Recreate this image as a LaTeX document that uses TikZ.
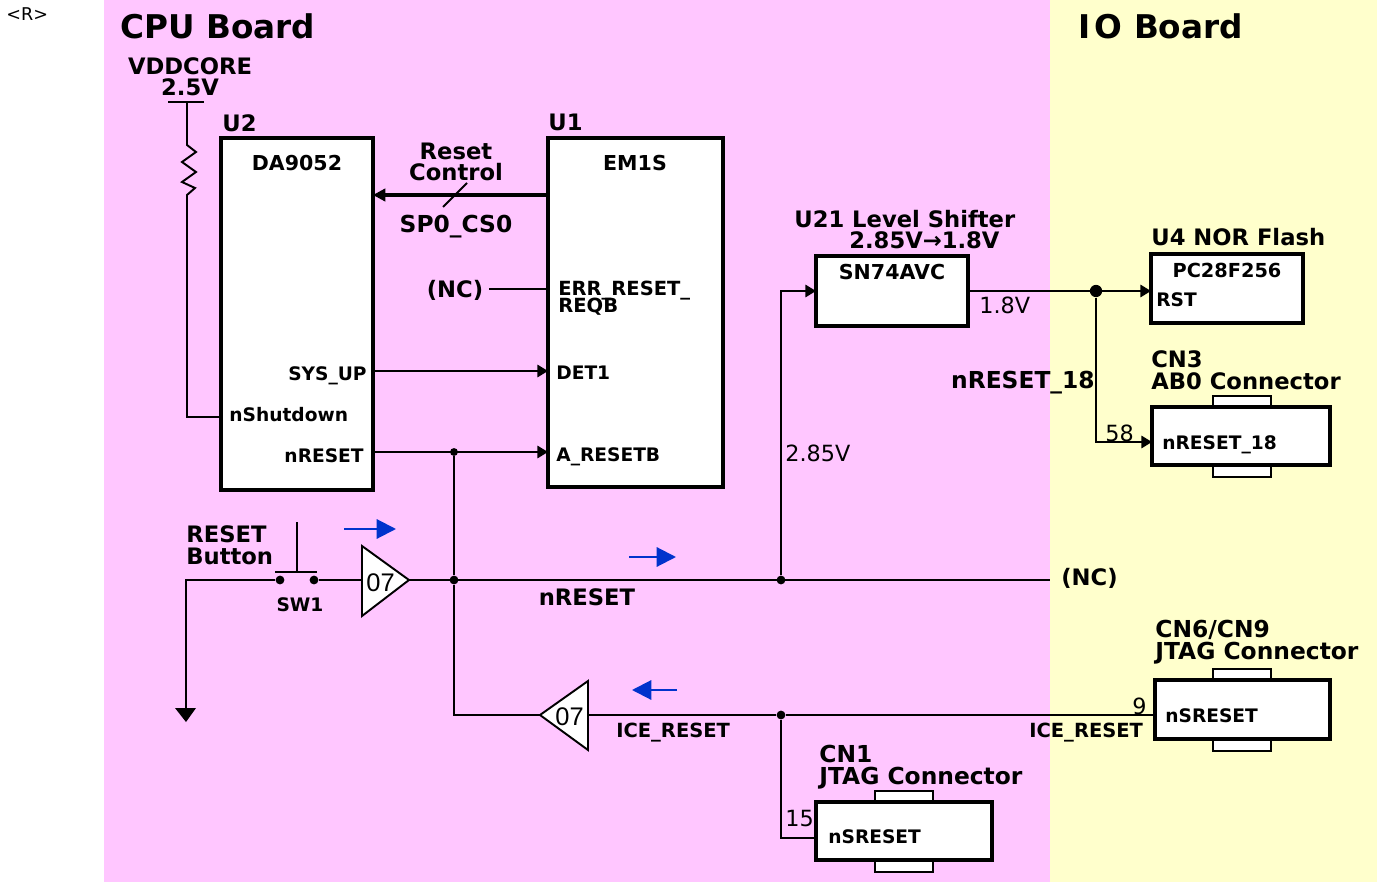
\documentclass[tikz,border=0pt]{standalone}
\usepackage{fontspec}
\setmainfont{DejaVu Sans}
\newfontfamily\gatefont{Liberation Sans}
\usetikzlibrary{arrows.meta}
\definecolor{cpupink}{HTML}{FFC6FF}
\definecolor{ioyellow}{HTML}{FFFFCC}
\definecolor{flowblue}{HTML}{0033CC}
\tikzset{
  wire/.style={line width=1.1pt},
  sig/.style={wire,-{Triangle[length=6pt,width=7pt]}},
  flow/.style={flowblue,line width=1.2pt,-{Triangle[length=11pt,width=11pt]}},
  chip/.style={draw,fill=white,line width=2.5pt,anchor=north west,inner sep=0pt,outer sep=0pt},
  tab/.style={draw,fill=white,line width=0.8pt,anchor=north west,inner sep=0pt,outer sep=0pt,minimum width=1.16cm,minimum height=0.24cm},
  dot/.style={circle,fill=black,inner sep=0pt,minimum size=#1},
  txt/.style={inner sep=0pt,anchor=base west},
  title/.style={txt,font=\fontsize{18.6}{20}\selectfont\bfseries},
  lab/.style={txt,font=\fontsize{12.9}{12.5}\selectfont\bfseries,align=left},
  widelab/.style={lab,font=\fontsize{13.3}{12.5}\selectfont\bfseries},
  chipname/.style={txt,font=\fontsize{11.7}{12.5}\selectfont\bfseries,anchor=base},
  pin/.style={txt,font=\fontsize{10.6}{10}\selectfont\bfseries,align=left},
  widepin/.style={pin,font=\fontsize{11.1}{10}\selectfont\bfseries},
  num/.style={txt,font=\fontsize{12.7}{13}\selectfont},
  gatelab/.style={txt,font=\fontsize{14.5}{14}\selectfont\gatefont},
}
\begin{document}
\begin{tikzpicture}[x=0.02cm,y=-0.02cm]
\useasboundingbox (0,0) rectangle (1377,882);
\fill[cpupink] (104,0) rectangle (1050,882);
\fill[ioyellow] (1050,0) rectangle (1377,882);
\node[txt,font=\fontsize{10}{10}\selectfont] (mark) at (6,21) {<R>};
\node[title] (cpu) at (120,39) {CPU Board};
\node[title] (io) at (1078,39) {I\kern2.5pt O Board};

\node[tab] (cnthreetop) at (1213,396) {};
\node[tab] (cnthreebot) at (1213,465) {};
\node[tab] (cnsixtop) at (1213,669) {};
\node[tab] (cnsixbot) at (1213,739) {};
\node[tab] (cnonetop) at (875,791) {};
\node[tab] (cnonebot) at (875,860) {};
\node[chip,minimum width=3.04cm,minimum height=7.04cm] (dialog) at (221,138) {};
\node[chip,minimum width=3.5cm,minimum height=6.98cm] (emone) at (548,138) {};
\node[chip,minimum width=3.04cm,minimum height=1.4cm] (shifter) at (816,256) {};
\node[chip,minimum width=3.04cm,minimum height=1.38cm] (flash) at (1151,254) {};
\node[chip,minimum width=3.56cm,minimum height=1.16cm] (cnthree) at (1152,407) {};
\node[chip,minimum width=3.5cm,minimum height=1.18cm] (cnsix) at (1155,680) {};
\node[chip,minimum width=3.52cm,minimum height=1.16cm] (cnone) at (816,802) {};

\coordinate (vbar) at (187,102);
\coordinate (vleft) at (168,102);
\coordinate (vright) at (204,102);
\coordinate (gnd) at (186,708);
\coordinate (swleft) at (280,580);
\coordinate (swright) at (314,580);
\coordinate (gatea) at (362,580);
\coordinate (gateb) at (409,580);
\coordinate (gatec) at (540,715);
\coordinate (gated) at (588,715);
\coordinate (nc) at (1050,580);
\node[dot=5pt] (jmain) at (454,580) {};
\node[dot=4.5pt] (jtop) at (454,452) {};
\node[dot=5pt] (jshift) at (781,580) {};
\node[dot=5pt] (jice) at (781,715) {};
\node[dot=7pt] (jflash) at (1096,291) {};
\node[dot=5pt] (swa) at (swleft) {};
\node[dot=5pt] (swb) at (swright) {};

\draw[wire] (vleft) -- (vright);
\draw[wire] (vbar) -- (187,145) -- (196,152) -- (182,162) -- (196,172) -- (182,182) -- (195,188) -- (187,195) -- (187,417) -- (221,417);
\draw[line width=2pt,-{Triangle[length=7pt,width=7pt]}] (emone.west |- 0,195) -- (dialog.east |- 0,195);
\draw[wire] (467,183) -- (443,207);
\draw[wire] (489,289) -- (emone.west |- 0,289);
\draw[sig] (dialog.east |- 0,371) -- (emone.west |- 0,371);
\draw[sig] (dialog.east |- 0,452) -- (emone.west |- 0,452);
\draw[wire] (jtop) -- (jmain) -- (454,715) -- (gatec);
\draw[wire] (gated) -- (jice) -- (cnsix.west |- 0,715);
\draw[wire] (jice) -- (781,838) -- (cnone.west |- 0,838);
\draw[wire] (gateb) -- (nc);
\draw[sig] (jshift) -- (781,291) -- (shifter.west |- 0,291);
\draw[sig] (shifter.east |- 0,291) -- (flash.west |- 0,291);
\draw[sig] (jflash) -- (1096,442) -- (cnthree.west |- 0,442);
\draw[wire] (swa) -- (186,580) -- (gnd);
\draw[wire] (swb) -- (gatea);
\fill (175,708) -- (196,708) -- (186,722) -- cycle;
\draw[wire] (275,572) -- (317,572);
\draw[wire] (297,572) -- (297,522);
\draw[wire,fill=white] (362,546) -- (362,616) -- (409,580) -- cycle;
\draw[wire,fill=white] (588,681) -- (588,750) -- (540,715) -- cycle;
\draw[flow] (344,529) -- (396,529);
\draw[flow] (629,557) -- (676,557);
\draw[flow] (677,690) -- (632,690);

\node[gatelab] (gateone) at (366,591) {07};
\node[gatelab] (gatetwo) at (555,725) {07};
\node[lab,align=center,anchor=base] (vdd) at (190,96) {VDDCORE\\2.5V};
\node[lab] (utwo) at (222,132) {U2};
\node[lab] (uone) at (548,131) {U1};
\node[chipname] (da) at (297,171) {DA9052};
\node[chipname] (em) at (635,171) {EM1S};
\node[lab,align=center,anchor=base] (reset) at (456,181) {Reset\\Control};
\node[widelab,anchor=base] (spo) at (456,233) {SP0\_CS0};
\node[lab,anchor=base] (ncone) at (455,297) {(NC)};
\node[widepin] (err) at (558,312) {ERR\_RESET\_\\[-2.5pt]REQB};
\node[pin] (det) at (556,379) {DET1};
\node[pin] (are) at (556,461) {A\_RESETB};
\node[pin,anchor=base east] (sys) at (367,380) {SYS\_UP};
\node[pin] (shut) at (229,421) {nShutdown};
\node[pin,anchor=base east] (nres) at (364,462) {nRESET};
\node[lab] (btn) at (186,564) {RESET\\Button};
\node[pin,anchor=base] (sw) at (300,611) {SW1};
\node[lab,anchor=base] (nmain) at (587,605) {nRESET};
\node[num] (vhigh) at (785,461) {2.85V};
\node[lab] (uxx) at (794,228) {U21 Level Shifter};
\node[lab] (volt) at (849,249) {2.85V→1.8V};
\node[chipname] (sn) at (892,279) {SN74AVC};
\node[num] (vlow) at (979,313) {1.8V};
\node[lab] (uf) at (1151,245) {U4 NOR Flash};
\node[chipname,font=\fontsize{11}{12}\selectfont\bfseries] (pc) at (1227,277) {PC28F256};
\node[pin] (rst) at (1156,306) {RST};
\node[widelab,anchor=base east] (n18) at (1095,388) {nRESET\_18};
\node[lab] (cnt) at (1151,389) {CN3\\AB0 Connector};
\node[num] (pinb) at (1105,441) {58};
\node[pin] (in18) at (1162,449) {nRESET\_18};
\node[lab] (ncr) at (1061,585) {(NC)};
\node[widepin] (icea) at (616,737) {ICE\_RESET};
\node[widepin] (iceb) at (1029,737) {ICE\_RESET};
\node[num] (pinc) at (1132,714) {9};
\node[widelab] (cns) at (1155,659) {CN6/CN9\\JTAG Connector};
\node[pin] (srs) at (1165,722) {nSRESET};
\node[widelab] (cno) at (819,784) {CN1\\JTAG Connector};
\node[pin] (sro) at (828,843) {nSRESET};
\node[num] (pind) at (785,826) {15};
\end{tikzpicture}
\end{document}
